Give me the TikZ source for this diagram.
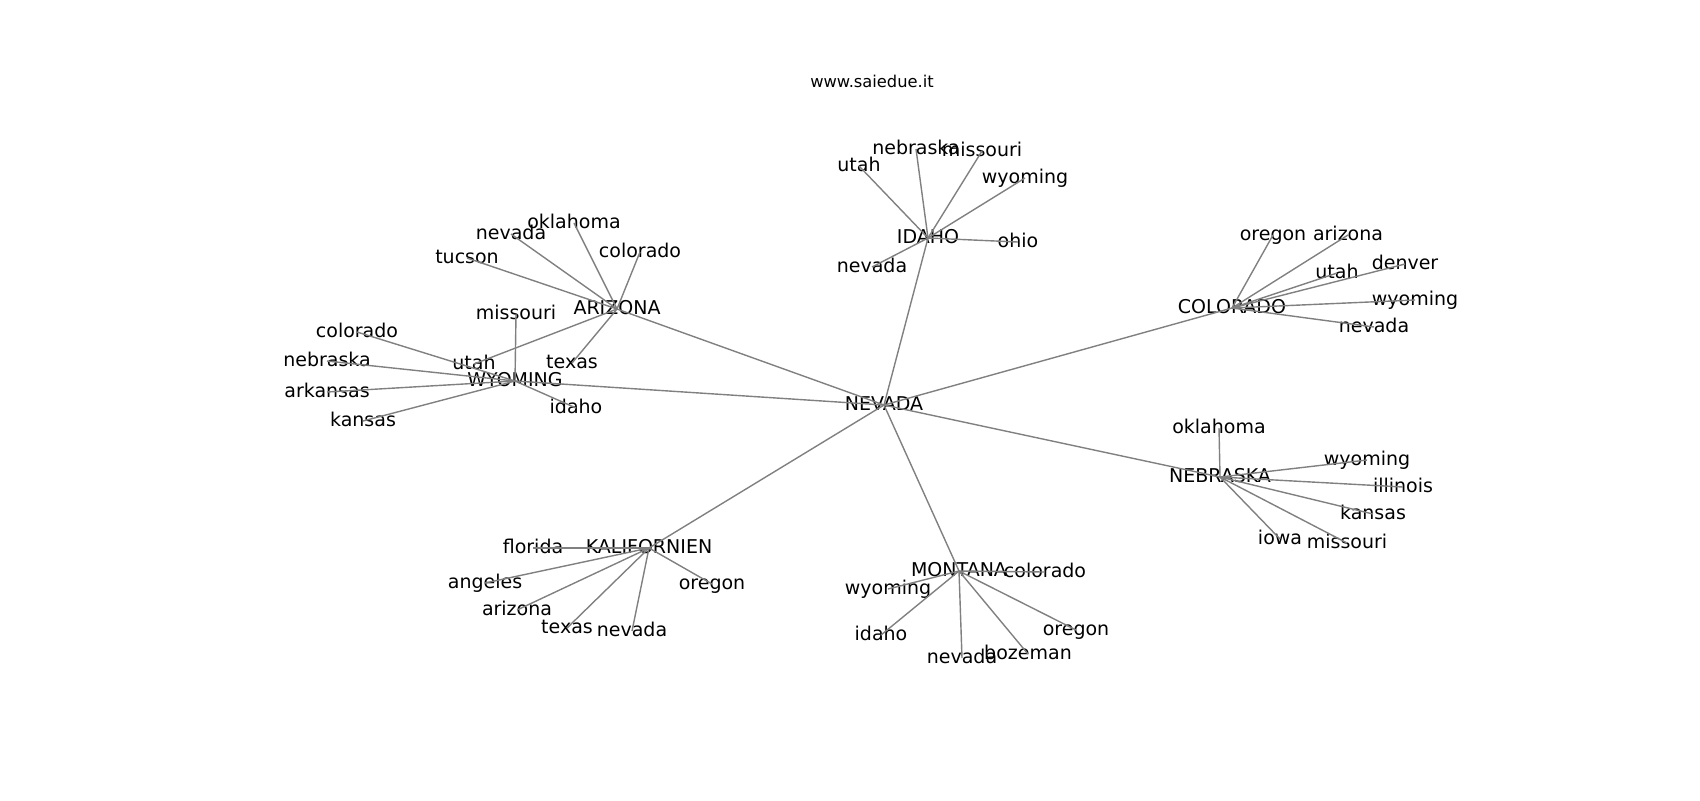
\documentclass[tikz,border=0pt]{standalone}
\usepackage{fontspec}
\setmainfont{DejaVu Sans}
\begin{document}
\begin{tikzpicture}[x=0.5pt,y=-0.5pt,
  lbl/.style={inner sep=0pt,text height=0.76em,text depth=0.24em,font=\fontsize{9.5}{11}\selectfont},
  edge/.style={draw=gray,line width=0.7pt}]
\useasboundingbox (0,0) rectangle (1700,800);
\node[font=\fontsize{8.15}{10}\selectfont,inner sep=0pt,text height=0.76em,text depth=0.24em] (title) at (872,82) {www.saiedue.it};
% hubs
\node[lbl] (NV) at (884,405) {NEVADA};
\node[lbl] (AZ) at (617,309) {ARIZONA};
\node[lbl] (WY) at (515,381) {WYOMING};
\node[lbl] (ID) at (928,238) {IDAHO};
\node[lbl] (CO) at (1232,308) {COLORADO};
\node[lbl] (NE) at (1220,477) {NEBRASKA};
\node[lbl] (KA) at (649,548) {KALIFORNIEN};
\node[lbl] (MO) at (959,571) {MONTANA};
% arizona leaves
\node[lbl] (az1) at (574,223) {oklahoma};
\node[lbl] (az2) at (511,234) {nevada};
\node[lbl] (az3) at (467,258) {tucson};
\node[lbl] (az4) at (640,252) {colorado};
\node[lbl] (az5) at (474,364) {utah};
\node[lbl] (az6) at (572,363) {texas};
% wyoming leaves
\node[lbl] (wy1) at (516,314) {missouri};
\node[lbl] (wy2) at (357,332) {colorado};
\node[lbl] (wy3) at (327,361) {nebraska};
\node[lbl] (wy4) at (327,392) {arkansas};
\node[lbl] (wy5) at (363,421) {kansas};
\node[lbl] (wy6) at (576,408) {idaho};
% idaho leaves
\node[lbl] (id1) at (859,166) {utah};
\node[lbl] (id2) at (916,149) {nebraska};
\node[lbl] (id3) at (982,151) {missouri};
\node[lbl] (id4) at (1025,178) {wyoming};
\node[lbl] (id5) at (1018,242) {ohio};
\node[lbl] (id6) at (872,267) {nevada};
% colorado leaves
\node[lbl] (co1) at (1273,235) {oregon};
\node[lbl] (co2) at (1348,235) {arizona};
\node[lbl] (co3) at (1337,273) {utah};
\node[lbl] (co4) at (1405,264) {denver};
\node[lbl] (co5) at (1415,300) {wyoming};
\node[lbl] (co6) at (1374,327) {nevada};
% nebraska leaves
\node[lbl] (ne1) at (1219,428) {oklahoma};
\node[lbl] (ne2) at (1367,460) {wyoming};
\node[lbl] (ne3) at (1403,487) {illinois};
\node[lbl] (ne4) at (1373,514) {kansas};
\node[lbl] (ne5) at (1280,539) {iowa};
\node[lbl] (ne6) at (1347,543) {missouri};
% kalifornien leaves
\node[lbl] (ka1) at (533,548) {florida};
\node[lbl] (ka2) at (485,583) {angeles};
\node[lbl] (ka3) at (517,610) {arizona};
\node[lbl] (ka4) at (567,628) {texas};
\node[lbl] (ka5) at (632,631) {nevada};
\node[lbl] (ka6) at (712,584) {oregon};
% montana leaves
\node[lbl] (mo1) at (1045,572) {colorado};
\node[lbl] (mo2) at (888,589) {wyoming};
\node[lbl] (mo3) at (881,635) {idaho};
\node[lbl] (mo4) at (962,658) {nevada};
\node[lbl] (mo5) at (1028,654) {bozeman};
\node[lbl] (mo6) at (1076,630) {oregon};
% edges
\foreach \h in {AZ,WY,ID,CO,NE,KA,MO} \draw[edge] (NV.center) -- (\h.center);
\foreach \l in {az1,az2,az3,az4,az5,az6} \draw[edge] (AZ.center) -- (\l.center);
\foreach \l in {wy1,wy2,wy3,wy4,wy5,wy6} \draw[edge] (WY.center) -- (\l.center);
\foreach \l in {id1,id2,id3,id4,id5,id6} \draw[edge] (ID.center) -- (\l.center);
\foreach \l in {co1,co2,co3,co4,co5,co6} \draw[edge] (CO.center) -- (\l.center);
\foreach \l in {ne1,ne2,ne3,ne4,ne5,ne6} \draw[edge] (NE.center) -- (\l.center);
\foreach \l in {ka1,ka2,ka3,ka4,ka5,ka6} \draw[edge] (KA.center) -- (\l.center);
\foreach \l in {mo1,mo2,mo3,mo4,mo5,mo6} \draw[edge] (MO.center) -- (\l.center);
\end{tikzpicture}
\end{document}
